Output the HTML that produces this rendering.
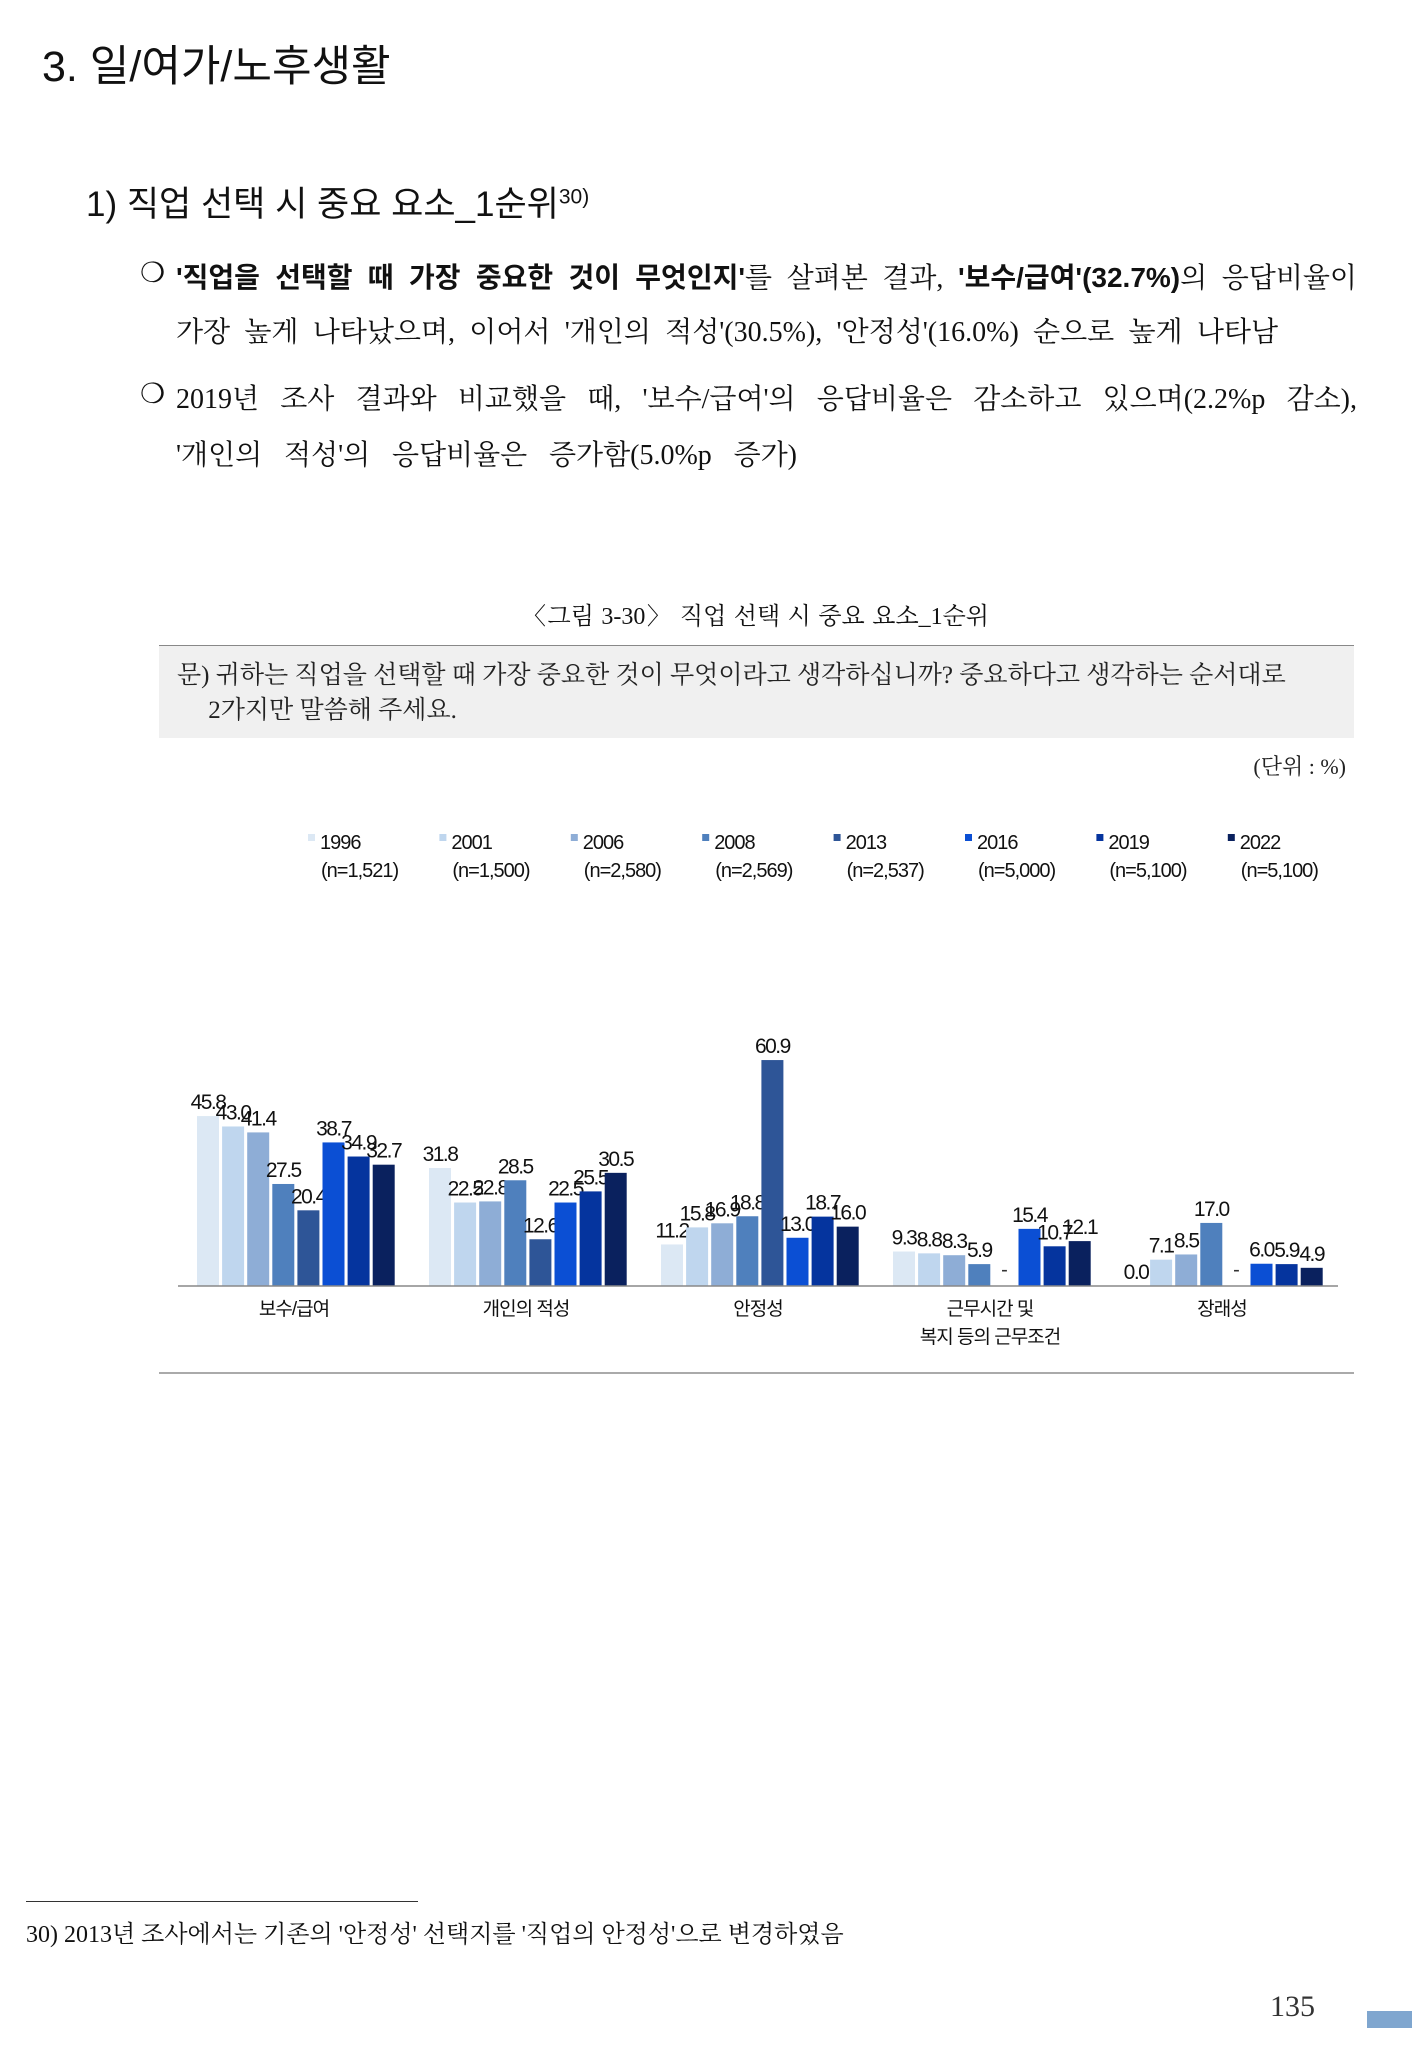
<!DOCTYPE html>
<html><head><meta charset="utf-8">
<style>
body{margin:0;background:#fff;}
#page{position:relative;width:1412px;height:2055px;overflow:hidden;font-family:"Liberation Serif","Noto Serif CJK KR",serif;color:#111;}
.abs{position:absolute;white-space:nowrap;}
.sans{font-family:"Liberation Sans","Noto Sans CJK KR",sans-serif;}
.line{position:absolute;left:176px;width:1181px;font-size:28px;text-align:justify;text-align-last:justify;white-space:nowrap;}
</style></head><body>
<div id="page">
<div class="abs sans" style="left:42px;top:32px;font-size:43px;">3. 일/여가/노후생활</div>
<div class="abs sans" style="left:86px;top:176px;font-size:35px;">1) 직업 선택 시 중요 요소_1순위<sup style="font-size:21px">30)</sup></div>

<div class="abs" style="left:140px;top:256px;font-size:28px;">❍</div>
<div class="line" style="top:256px;"><b class="sans">'직업을 선택할 때 가장 중요한 것이 무엇인지'</b>를 살펴본 결과, <b class="sans">'보수/급여'(32.7%)</b>의 응답비율이</div>
<div class="line" style="top:310px;width:1102px;">가장 높게 나타났으며, 이어서 '개인의 적성'(30.5%), '안정성'(16.0%) 순으로 높게 나타남</div>
<div class="abs" style="left:140px;top:377px;font-size:28px;">❍</div>
<div class="line" style="top:377px;">2019년 조사 결과와 비교했을 때, '보수/급여'의 응답비율은 감소하고 있으며(2.2%p 감소),</div>
<div class="line" style="top:433px;width:621px;">'개인의 적성'의 응답비율은 증가함(5.0%p 증가)</div>

<div class="abs" style="left:522px;width:467px;text-align:justify;text-align-last:justify;top:596px;font-size:24px;">〈그림 3-30〉 직업 선택 시 중요 요소_1순위</div>
<div class="abs" style="left:159px;top:645px;width:1195px;height:92px;background:#f0f0f0;border-top:1.5px solid #888;"></div>
<div class="abs" style="left:177px;top:658px;font-size:25px;line-height:35px;color:#222;">문) 귀하는 직업을 선택할 때 가장 중요한 것이 무엇이라고 생각하십니까? 중요하다고 생각하는 순서대로<br>&nbsp;&nbsp;&nbsp;&nbsp;&nbsp;2가지만 말씀해 주세요.</div>
<div class="abs" style="right:66px;top:750px;font-size:22px;color:#222;">(단위 : %)</div>

<svg class="abs" style="left:0;top:0" width="1412" height="2055" id="chart"></svg>

<div class="abs" style="left:159px;top:1372px;width:1195px;height:1.5px;background:#aaa;"></div>
<div class="abs" style="left:26px;top:1901px;width:392px;height:1px;background:#333;"></div>
<div class="abs" style="left:26px;top:1914px;font-size:24px;">30) 2013년 조사에서는 기존의 '안정성' 선택지를 '직업의 안정성'으로 변경하였음</div>
<div class="abs" style="left:1270px;top:1990px;font-size:30px;color:#333;">135</div>
<div class="abs" style="left:1367px;top:2011px;width:45px;height:17px;background:#7fa6cf;"></div>
</div>
<script>
const categories=["보수/급여","개인의 적성","안정성","근무시간 및|복지 등의 근무조건","장래성"];
const years=["1996","2001","2006","2008","2013","2016","2019","2022"];
const sampleSizes=["(n=1,521)","(n=1,500)","(n=2,580)","(n=2,569)","(n=2,537)","(n=5,000)","(n=5,100)","(n=5,100)"];
const s1996=[45.8,31.8,11.2,9.3,0.0];
const s2001=[43.0,22.5,15.8,8.8,7.1];
const s2006=[41.4,22.8,16.9,8.3,8.5];
const s2008=[27.5,28.5,18.8,5.9,17.0];
const s2013=[20.4,12.6,60.9,null,null];
const s2016=[38.7,22.5,13.0,15.4,6.0];
const s2019=[34.9,25.5,18.7,10.7,5.9];
const s2022=[32.7,30.5,16.0,12.1,4.9];
const series=[s1996,s2001,s2006,s2008,s2013,s2016,s2019,s2022];
const colors=["#dce8f4","#bfd6ee","#8eadd6","#4f80bd","#2e5597","#0b4fd4","#05349e","#0a215e"];
const NS="http://www.w3.org/2000/svg";
const svg=document.getElementById('chart');
const x0=178,x1=1338,base=1286,pxPerUnit=3.71;
const groupW=(x1-x0)/categories.length;
const barPitch=25.1,barW=22;
function yScale(v){return base-v*pxPerUnit;}
function xBar(g,i){return x0+g*groupW+19+i*barPitch;}
function mk(tag,attrs){const e=document.createElementNS(NS,tag);for(const k in attrs)e.setAttribute(k,attrs[k]);svg.appendChild(e);return e;}
const F='"Liberation Sans","Noto Sans CJK KR",sans-serif';
years.forEach((yr,i)=>{
  const lx=308+i*131.4;
  const r=mk('rect',{x:lx,y:834,width:7,height:7,fill:colors[i]});
  
  
  const t=mk('text',{x:lx+12,y:849,'font-size':20,'font-family':F,'letter-spacing':-1,fill:'#111'});
  t.textContent=yr;
  
  
  const n=mk('text',{x:lx+13,y:877,'font-size':20,'font-family':F,'letter-spacing':-1,fill:'#111'});
  n.textContent=sampleSizes[i];
  
  
});
series.forEach((s,i)=>{
  s.forEach((v,g)=>{
    const bx=xBar(g,i);
    if(v===null){
      const d=mk('text',{x:bx+barW/2,y:base-10,'text-anchor':'middle','font-size':20,'font-family':F,fill:'#333'});
      d.textContent='-';
      
      
      return;
    }
    if(v>0){
      const b=mk('rect',{x:bx,y:yScale(v),width:barW,height:v*pxPerUnit,fill:colors[i]});
      
      
    }
    const t=mk('text',{x:bx+barW/2,y:yScale(v)-7,'text-anchor':'middle','font-size':21,'font-family':F,'letter-spacing':-1.5,fill:'#111'});
    t.textContent=v.toFixed(1);
    
    
  });
});
const ax=mk('line',{x1:x0,y1:base,x2:x1,y2:base,stroke:'#888','stroke-width':1.5});


categories.forEach((c,g)=>{
  const cx=x0+g*groupW+groupW/2;
  c.split('|').forEach((ln,k)=>{
    const t=mk('text',{x:cx,y:1315+k*28,'text-anchor':'middle','font-size':19,'font-family':F,'letter-spacing':-1,fill:'#111'});
    t.textContent=ln;
    
    
  });
});
</script>
</body></html>
